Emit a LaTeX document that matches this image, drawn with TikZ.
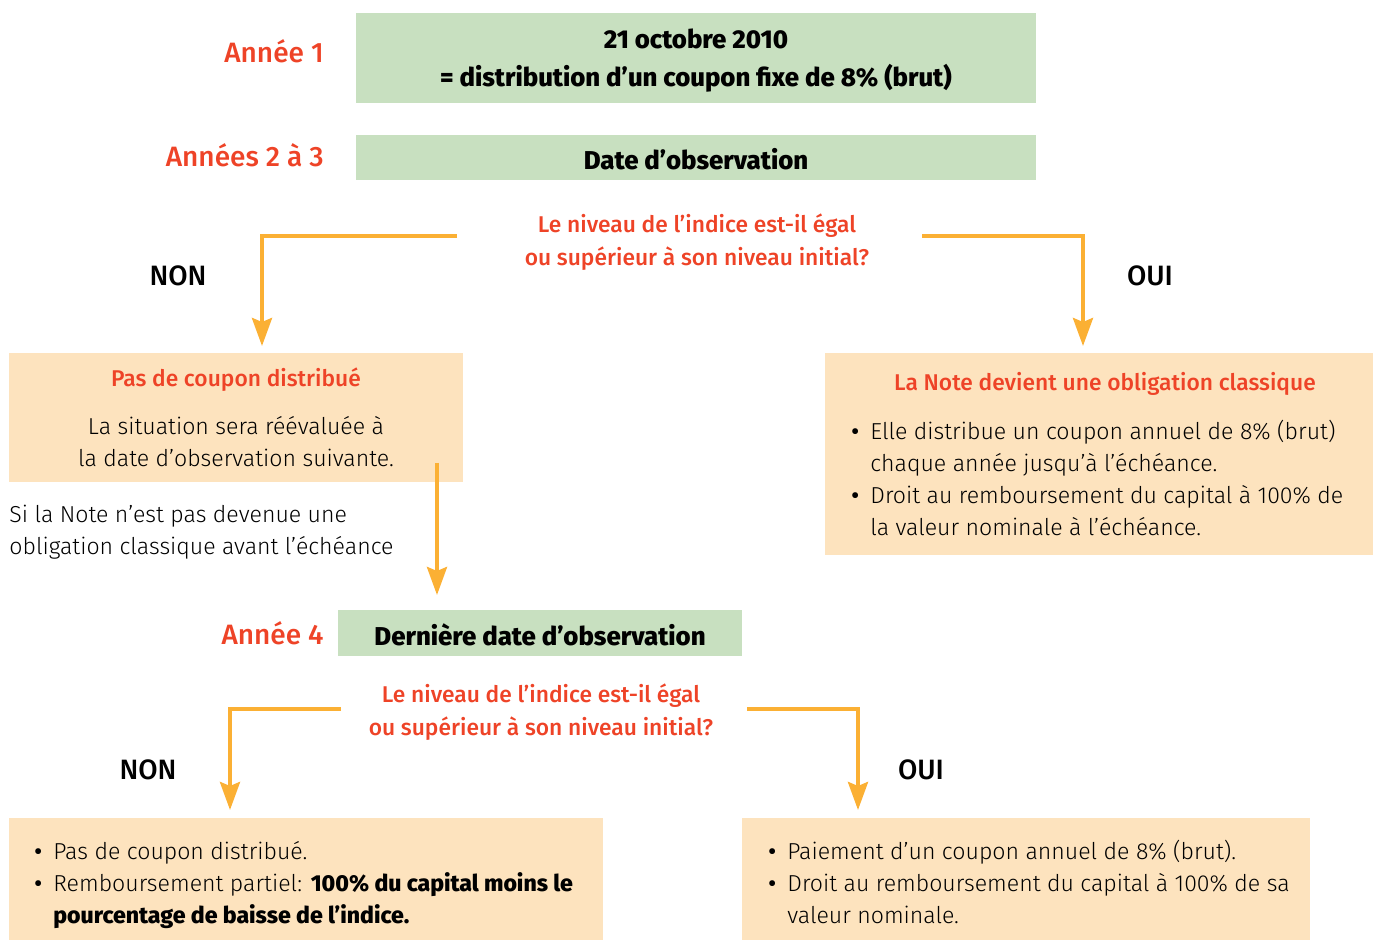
\documentclass[tikz,border=0pt]{standalone}
\usepackage{fontspec}
\setmainfont{Fira Sans}[UprightFont={* Light},BoldFont={* ExtraBold}]
\newfontfamily\medfont{Fira Sans Medium}
\usetikzlibrary{arrows.meta,positioning}
\definecolor{boxgreen}{RGB}{200,224,192}
\definecolor{boxorange}{RGB}{253,227,190}
\definecolor{arrowyellow}{RGB}{251,176,52}
\definecolor{noteRed}{RGB}{238,67,39}
\newcommand{\bul}{\makebox[9.5pt][l]{{\medfont\textbullet}}}
\newcommand{\ind}{\hspace*{9.5pt}}

\begin{document}
\begin{tikzpicture}[x=0.5pt,y=-0.5pt,
    yearlabel/.style={anchor=east,inner sep=0pt,text=noteRed,font=\medfont\fontsize{14}{17}\selectfont},
    greenbox/.style={fill=boxgreen,inner sep=0pt},
    orangebox/.style={fill=boxorange,inner sep=0pt},
    boldtext/.style={inner sep=0pt,align=center,font=\bfseries\fontsize{12.9}{19}\selectfont},
    question/.style={inner sep=0pt,align=center,text=noteRed,font=\medfont\fontsize{11.4}{16.5}\selectfont},
    answer/.style={inner sep=0pt,font=\medfont\fontsize{14}{16}\selectfont},
    boxtitle/.style={inner sep=0pt,text=noteRed,font=\medfont\fontsize{11.4}{14}\selectfont},
    bodytext/.style={inner sep=0pt,font=\fontsize{11.55}{16}\selectfont},
    arr/.style={draw=arrowyellow,line width=2pt,-{Stealth[length=14pt,width=10pt,inset=2pt]}}]
    \useasboundingbox (0,0) rectangle (1373,940);
    % Annee 1
    \node[yearlabel] (y1) at (324,51) {Année 1};
    \node[greenbox,minimum width=340pt,minimum height=45pt] (b1) at (696,58) {};
    \node[boldtext] (b1t) at (696,61) {21 octobre 2010\\= distribution d’un coupon fixe de 8\% (brut)};
    % Annees 2 a 3
    \node[yearlabel] (y2) at (324,155) {Années 2 à 3};
    \node[greenbox,minimum width=340pt,minimum height=22.5pt] (b2) at (696,157.5) {};
    \node[boldtext] (b2t) at (696,159) {Date d’observation};
    \node[question] (q1) at (697,242) {Le niveau de l’indice est-il égal\\ou supérieur à son niveau initial?};
    \node[answer] (non1) at (178,276) {NON};
    \node[answer] (oui1) at (1150,276) {OUI};
    % cas NON
    \node[orangebox,minimum width=227pt,minimum height=64.5pt] (lbox) at (236,417.5) {};
    \node[boxtitle] (lboxt) at (236,380) {Pas de coupon distribué};
    \node[bodytext,align=center] (lboxb) at (236,442) {La situation sera réévaluée à\\la date d’observation suivante.};
    \node[bodytext,align=left,anchor=west] (cond) at (9,532) {Si la Note n’est pas devenue une\\obligation classique avant l’échéance};
    % cas OUI
    \node[orangebox,minimum width=274pt,minimum height=101pt] (rbox) at (1099,454) {};
    \node[boxtitle] (rboxt) at (1105,384) {La Note devient une obligation classique};
    \node[bodytext,align=left,anchor=west] (rboxb) at (851,478) {\bul Elle distribue un coupon annuel de 8\% (brut)\\\ind chaque année jusqu’à l’échéance.\\\bul Droit au remboursement du capital à 100\% de\\\ind la valeur nominale à l’échéance.};
    \coordinate (a1) at (457,236);
    \coordinate (e1) at (262,346);
    \coordinate (a2) at (922,236);
    \coordinate (e2) at (1083,346);
    \coordinate (a3) at (437,463);
    \coordinate (e3) at (437,595);
    \draw[arr] (a1) -| (e1);
    \draw[arr] (a2) -| (e2);
    \draw[arr] (a3) -- (e3);
    % Annee 4
    \node[yearlabel] (y4) at (324,633) {Année 4};
    \node[greenbox,minimum width=202pt,minimum height=23pt] (b3) at (540,633) {};
    \node[boldtext] (b3t) at (540,635) {Dernière date d’observation};
    \node[question] (q2) at (541,712) {Le niveau de l’indice est-il égal\\ou supérieur à son niveau initial?};
    \node[answer] (non2) at (148,770) {NON};
    \node[answer] (oui2) at (921,770) {OUI};
    \node[orangebox,minimum width=297pt,minimum height=61pt] (blbox) at (306,879) {};
    \node[bodytext,align=left,anchor=west] (blboxb) at (34,885) {\bul Pas de coupon distribué.\\\bul Remboursement partiel: \textbf{100\% du capital moins le}\\\ind\textbf{pourcentage de baisse de l’indice.}};
    \node[orangebox,minimum width=284pt,minimum height=61pt] (brbox) at (1026,879) {};
    \node[bodytext,align=left,anchor=west] (brboxb) at (768,882) {\bul Paiement d’un coupon annuel de 8\% (brut).\\\bul Droit au remboursement du capital à 100\% de sa\\\ind valeur nominale.};
    \coordinate (a4) at (341,709);
    \coordinate (e4) at (230,810);
    \coordinate (a5) at (747,709);
    \coordinate (e5) at (858,810);
    \draw[arr] (a4) -| (e4);
    \draw[arr] (a5) -| (e5);
\end{tikzpicture}
\end{document}
